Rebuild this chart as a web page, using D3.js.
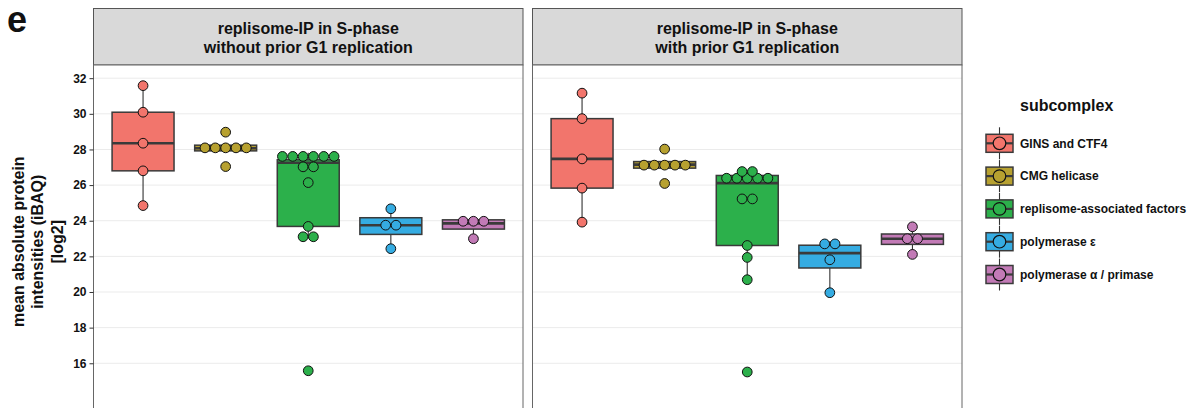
<!DOCTYPE html>
<html><head><meta charset="utf-8">
<script src="https://cdn.jsdelivr.net/npm/d3@7"></script>
<style>body{margin:0;background:#fff} text{font-family:"Liberation Sans",Arial,Helvetica,sans-serif;font-weight:bold;fill:#111}</style>
</head><body><svg id="c" width="1197" height="408"></svg>
<script>
const subcomplexes = ["GINS and CTF4","CMG helicase","replisome-associated factors","polymerase ε","polymerase α / primase"];
const colors = ["#F2756C","#B7A130","#2CB04B","#35ACE2","#C27AB6"];
const panelTitles = [["replisome-IP in S-phase","without prior G1 replication"],["replisome-IP in S-phase","with prior G1 replication"]];
const yTicks = [16,18,20,22,24,26,28,30,32];
const yTitle = ["mean absolute protein","intensities (iBAQ)","[log2]"];
const legendTitle = "subcomplex";
const panelLetter = "e";

// values (log2 iBAQ) per subcomplex, panel 1: without prior G1 replication
const withoutGINS = [24.85, 26.80, 28.35, 30.09, 31.58];
const withoutCMG = [27.04, 27.88, 27.96, 28.07, 28.18, 28.30, 28.97];
const withoutReplisome = [15.58, 23.0, 23.2, 23.68, 26.14, 26.8, 27.25, 27.40, 27.41, 27.42, 27.6, 27.78, 27.82];
const withoutPolE = [22.43, 23.5, 24.0, 24.67];
const withoutPolA = [22.99, 23.71, 23.99, 24.23];
// panel 2: with prior G1 replication
const withGINS = [23.92, 25.83, 27.47, 29.73, 31.16];
const withCMG = [26.09, 26.88, 27.02, 27.15, 27.28, 27.36, 28.02];
const withReplisome = [15.51, 20.69, 21.94, 22.61, 25.15, 25.30, 26.11, 26.25, 26.40, 26.54, 26.66, 26.70, 26.82];
const withPolE = [19.96, 21.81, 22.55, 22.85];
const withPolA = [22.11, 22.86, 23.12, 23.66];

const panelData = [
  [withoutGINS, withoutCMG, withoutReplisome, withoutPolE, withoutPolA],
  [withGINS, withCMG, withReplisome, withPolE, withPolA]
];

const binwidth = 0.58;
const svg = d3.select("#c");
const panelTop = 65, panelBottom = 418.5;
const panelX = [[93.5, 523], [532.5, 962]];
const y = d3.scaleLinear().domain([12.9, 32.74]).range([panelBottom, panelTop]);
const color = d3.scaleOrdinal().domain(subcomplexes).range(colors);
const dotD = Math.abs(y(0) - y(binwidth));

function dotBins(vals, bw) {
  const s = vals.slice().sort(d3.ascending);
  const bins = []; let cur = null, end = -Infinity;
  for (const v of s) {
    if (v >= end) { cur = []; bins.push(cur); end = v + bw; }
    cur.push(v);
  }
  return bins.map(b => ({n: b.length, center: (b[0] + b[b.length-1]) / 2}));
}
function boxStats(vals) {
  const s = vals.slice().sort(d3.ascending);
  const q1 = d3.quantile(s, 0.25), med = d3.quantile(s, 0.5), q3 = d3.quantile(s, 0.75);
  const iqr = q3 - q1;
  const lo = d3.min(s.filter(v => v >= q1 - 1.5 * iqr));
  const hi = d3.max(s.filter(v => v <= q3 + 1.5 * iqr));
  return {q1, med, q3, lo, hi};
}

// letter
svg.append("text").attr("x", 7).attr("y", 31.5).attr("font-size", 36).text(panelLetter);

panelData.forEach((groups, pi) => {
  const [x0, x1] = panelX[pi];
  const x = d3.scalePoint().domain(subcomplexes).range([x0, x1]).padding(0.6);
  const step = x.step();
  const g = svg.append("g");
  // strip
  g.append("rect").attr("x", x0).attr("y", 8.5).attr("width", x1 - x0).attr("height", panelTop - 8.5)
    .attr("fill", "#D9D9D9").attr("stroke", "#555").attr("stroke-width", 1);
  panelTitles[pi].forEach((t, i) => g.append("text").attr("x", (x0 + x1) / 2).attr("y", 33.5 + i * 19.4)
    .attr("text-anchor", "middle").attr("font-size", 16).text(t));
  // panel
  g.append("rect").attr("x", x0).attr("y", panelTop).attr("width", x1 - x0).attr("height", panelBottom - panelTop)
    .attr("fill", "#fff");
  g.selectAll(".grid").data(yTicks).join("line").attr("x1", x0).attr("x2", x1)
    .attr("y1", d => y(d)).attr("y2", d => y(d)).attr("stroke", "#EBEBEB").attr("stroke-width", 1);
  groups.forEach((vals, ci) => {
    const cat = subcomplexes[ci];
    const cx = x(cat), bw = step * 0.75;
    const st = boxStats(vals);
    const c = color(cat);
    g.append("line").attr("x1", cx).attr("x2", cx).attr("y1", y(st.q3)).attr("y2", y(st.hi)).attr("stroke", "#333").attr("stroke-width", 1.1);
    g.append("line").attr("x1", cx).attr("x2", cx).attr("y1", y(st.q1)).attr("y2", y(st.lo)).attr("stroke", "#333").attr("stroke-width", 1.1);
    g.append("rect").attr("x", cx - bw / 2).attr("y", y(st.q3)).attr("width", bw).attr("height", y(st.q1) - y(st.q3))
      .attr("fill", c).attr("stroke", "#3a3a3a").attr("stroke-width", 1.5);
    g.append("line").attr("x1", cx - bw / 2).attr("x2", cx + bw / 2).attr("y1", y(st.med)).attr("y2", y(st.med))
      .attr("stroke", "#3a3a3a").attr("stroke-width", 2.6);
    const bins = dotBins(vals, binwidth);
    bins.forEach(b => {
      for (let k = 0; k < b.n; k++) {
        g.append("circle").attr("cx", cx + (k - (b.n - 1) / 2) * dotD).attr("cy", y(b.center))
          .attr("r", dotD / 2 - 0.3).attr("fill", c).attr("stroke", "#111").attr("stroke-width", 1);
      }
    });
  });
  g.append("rect").attr("x", x0).attr("y", panelTop).attr("width", x1 - x0).attr("height", panelBottom - panelTop)
    .attr("fill", "none").attr("stroke", "#666").attr("stroke-width", 1);
});

// y axis
const axis = svg.append("g").attr("transform", `translate(${panelX[0][0]},0)`)
  .call(d3.axisLeft(y).tickValues(yTicks).tickSize(4).tickPadding(3));
axis.select(".domain").remove();
axis.selectAll(".tick line").attr("stroke", "#333");
axis.selectAll(".tick text").attr("font-size", 12).attr("font-family", '"Liberation Sans",Arial,sans-serif').attr("font-weight", "bold").attr("fill", "#222");

// y title
const yt = svg.append("g").attr("transform", `translate(0,${(panelTop + panelBottom) / 2}) rotate(-90)`);
yTitle.forEach((t, i) => yt.append("text").attr("x", 0).attr("y", 23.5 + i * 19.6).attr("text-anchor", "middle").attr("font-size", 16).text(t));

// legend
const lg = svg.append("g").attr("transform", "translate(986,0)");
lg.append("text").attr("x", 34).attr("y", 110.5).attr("font-size", 16).text(legendTitle);
subcomplexes.forEach((s, i) => {
  const cy = 143.3 + i * 32.8;
  const row = lg.append("g");
  row.append("line").attr("x1", 13.5).attr("x2", 13.5).attr("y1", cy - 16).attr("y2", cy + 16).attr("stroke", "#333").attr("stroke-width", 1.1);
  row.append("rect").attr("x", 0).attr("y", cy - 9).attr("width", 27).attr("height", 18).attr("fill", color(s)).attr("stroke", "#3a3a3a").attr("stroke-width", 1.5);
  row.append("line").attr("x1", 0).attr("x2", 27).attr("y1", cy).attr("y2", cy).attr("stroke", "#3a3a3a").attr("stroke-width", 2.2);
  row.append("circle").attr("cx", 13.5).attr("cy", cy).attr("r", 6.3).attr("fill", color(s)).attr("stroke", "#111").attr("stroke-width", 1.2);
  row.append("text").attr("x", 34).attr("y", cy + 4.3).attr("font-size", 12).text(s);
});
</script>
</body></html>
